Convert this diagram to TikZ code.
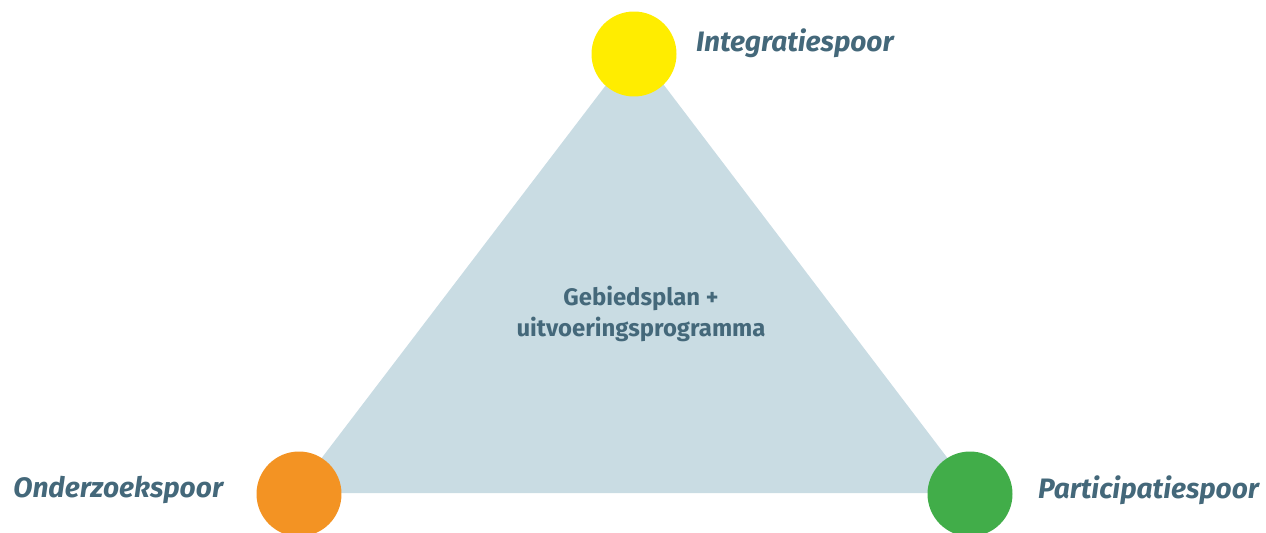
\documentclass[tikz,border=0pt]{standalone}
\usepackage{fontspec}
\setmainfont{Fira Sans}
\usetikzlibrary{positioning}

\definecolor{vlak}{HTML}{C9DCE3}
\definecolor{geel}{HTML}{FFED00}
\definecolor{oranje}{HTML}{F39323}
\definecolor{groen}{HTML}{41AD49}
\definecolor{tekst}{HTML}{44687A}

\begin{document}
\begin{tikzpicture}[x=0.02cm,y=-0.02cm,inner sep=0pt,outer sep=0pt,
spoor/.style={circle,minimum size=1.7cm},
spoorlabel/.style={text=tekst,font=\bfseries\itshape\fontsize{16}{19}\selectfont}]

\useasboundingbox (0,0) rectangle (1266,533);

% hoekpunten van het vlak
\coordinate (top) at (635,47);
\coordinate (links) at (295,493);
\coordinate (rechts) at (974,493);
\fill[vlak] (top) -- (links) -- (rechts) -- cycle;

\node[spoor,fill=geel] (int) at (634,54) {};
\node[spoor,fill=oranje] (ond) at (299,494) {};
\node[spoor,fill=groen] (par) at (970,494) {};

\node[spoorlabel,anchor=base west] (intlabel) at (696,52) {Integratiespoor};
\node[spoorlabel,anchor=base east] (ondlabel) at (223,497) {Onderzoekspoor};
\node[spoorlabel,anchor=base west] (parlabel) at (1038,498) {Participatiespoor};

\node[text=tekst,font=\bfseries\fontsize{13.6}{17.5}\selectfont,align=center] (plan) at (641,314)
  {Gebiedsplan +\\uitvoeringsprogramma};
\end{tikzpicture}
\end{document}
